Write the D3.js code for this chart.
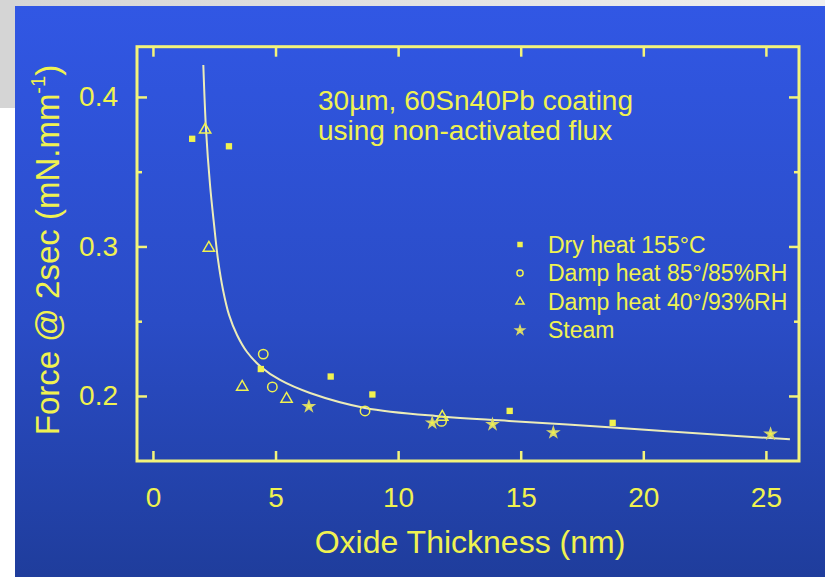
<!DOCTYPE html>
<html><head><meta charset="utf-8">
<script src="https://cdnjs.cloudflare.com/ajax/libs/d3/7.8.5/d3.min.js"></script>
<style>html,body{margin:0;padding:0;background:#fff;}svg{display:block;font-family:"Liberation Sans",Arial,sans-serif;}</style>
</head><body>
<script>
// ---- data ----
const dryHeat   = [[1.6,0.372],[3.1,0.367],[4.4,0.218],[7.25,0.213],[8.95,0.201],[14.55,0.190],[18.75,0.182]];
const damp8585  = [[4.5,0.228],[4.87,0.206],[8.65,0.190],[11.77,0.183]];
const damp4093  = [[2.13,0.378],[2.28,0.299],[3.64,0.206],[5.45,0.198],[11.8,0.186]];
const steam     = [[6.36,0.193],[11.39,0.182],[13.85,0.181],[16.33,0.1755],[25.19,0.1746]];
const fitCurve  = [[2.055,0.4214],[2.166,0.3779],[2.329,0.3411],[2.494,0.3144],[2.655,0.291],[2.859,0.2709],[3.104,0.2542],[3.43,0.2408],[3.838,0.2294],[4.409,0.2194],[5.184,0.2107],[6.407,0.202],[8.65,0.192],[11.75,0.1863],[14.52,0.1833],[18.76,0.1789],[22.31,0.1749],[25.98,0.171]];
const xTicks = [0,5,10,15,20,25];
const yTicks = [0.2,0.3,0.4];
const yMinorTicks = [0.25,0.35];
const legendLabels = ["Dry heat 155°C","Damp heat 85°/85%RH","Damp heat 40°/93%RH","Steam"];
const noteLines = ["30µm, 60Sn40Pb coating","using non-activated flux"];
const xTitle = "Oxide Thickness (nm)";

const W=825,H=577;
const YEL="#f0f250", FRAME="#f3f37a", CURVE="#ececb8";
const svg=d3.select("body").append("svg").attr("width",W).attr("height",H);
const defs=svg.append("defs");
const g1=defs.append("linearGradient").attr("id","bg").attr("x1",0).attr("y1",0).attr("x2",0).attr("y2",1);
g1.append("stop").attr("offset","0%").attr("stop-color","#3157e4");
g1.append("stop").attr("offset","55%").attr("stop-color","#2a4cc6");
g1.append("stop").attr("offset","100%").attr("stop-color","#1f3d9c");
const g2=defs.append("linearGradient").attr("id","gr").attr("x1",0).attr("y1",0).attr("x2",1).attr("y2",0);
g2.append("stop").attr("offset","0%").attr("stop-color","#d5d5d5");
g2.append("stop").attr("offset","100%").attr("stop-color","#efefef");

svg.append("rect").attr("x",0).attr("y",0).attr("width",W).attr("height",H).attr("fill","#fff");
svg.append("rect").attr("x",0).attr("y",0).attr("width",W).attr("height",6).attr("fill","url(#gr)");
svg.append("rect").attr("x",0).attr("y",0).attr("width",15).attr("height",108).attr("fill","#d5d5d5");
svg.append("rect").attr("x",15).attr("y",6).attr("width",W-15).attr("height",H-6).attr("fill","url(#bg)");

const L=137,R=799,T=46.7,B=461;
const x=d3.scaleLinear().domain([-0.65,26.35]).range([L,R]);
const y=d3.scaleLinear().domain([0.1565,0.4336]).range([B,T]);

function styleAxis(g){g.select(".domain").remove();g.selectAll("line").attr("stroke",FRAME).attr("stroke-width",2.5);g.selectAll("text").attr("fill",YEL).attr("font-size",28).attr("font-family","'Liberation Sans',Arial,sans-serif");}
svg.append("g").attr("transform",`translate(0,${B})`).call(d3.axisBottom(x).tickValues(xTicks).tickSize(-10).tickPadding(26).tickFormat(d3.format("d"))).call(styleAxis);
svg.append("g").attr("transform",`translate(0,${T})`).call(d3.axisTop(x).tickValues(xTicks).tickSize(-10).tickFormat("")).call(styleAxis);
svg.append("g").attr("transform",`translate(${L},0)`).call(d3.axisLeft(y).tickValues(yTicks).tickSize(-10).tickPadding(19).tickFormat(d3.format(".1f"))).call(styleAxis);
svg.append("g").attr("transform",`translate(${L},0)`).call(d3.axisLeft(y).tickValues(yMinorTicks).tickSize(-5).tickFormat("")).call(styleAxis);
svg.append("g").attr("transform",`translate(${R},0)`).call(d3.axisRight(y).tickValues(yTicks).tickSize(-10).tickFormat("")).call(styleAxis);
svg.append("g").attr("transform",`translate(${R},0)`).call(d3.axisRight(y).tickValues(yMinorTicks).tickSize(-5).tickFormat("")).call(styleAxis);

svg.append("rect").attr("x",L).attr("y",T).attr("width",R-L).attr("height",B-T)
  .attr("fill","none").attr("stroke",FRAME).attr("stroke-width",3);

// curve
svg.append("path").datum(fitCurve).attr("fill","none").attr("stroke",CURVE).attr("stroke-width",2)
  .attr("d",d3.line().x(d=>x(d[0])).y(d=>y(d[1])).curve(d3.curveCatmullRom.alpha(0.5)));

// markers
const sq=d3.symbol().type(d3.symbolSquare).size(40);
const ci=d3.symbol().type(d3.symbolCircle).size(70);
const tr=d3.symbol().type(d3.symbolTriangle).size(55);
const st=d3.symbol().type(d3.symbolStar).size(32);
const seriesDefs=[
 {data:dryHeat,sym:sq,fill:YEL,stroke:"none"},
 {data:damp8585,sym:ci,fill:"none",stroke:YEL},
 {data:damp4093,sym:tr,fill:"none",stroke:YEL},
 {data:steam,sym:st,fill:YEL,stroke:"#d6d66a"}
];
seriesDefs.forEach(s=>{
  svg.append("g").selectAll("path").data(s.data).join("path")
   .attr("transform",d=>`translate(${x(d[0])},${y(d[1])})`)
   .attr("d",s.sym()).attr("fill",s.fill).attr("stroke",s.stroke).attr("stroke-width",1.5);
});

// legend
const legSyms=[d3.symbol().type(d3.symbolSquare).size(30),d3.symbol().type(d3.symbolCircle).size(30),d3.symbol().type(d3.symbolTriangle).size(28),d3.symbol().type(d3.symbolStar).size(22)];
legendLabels.forEach((t,i)=>{
  const by=252.5+i*28.6;
  const s=seriesDefs[i];
  svg.append("path").attr("transform",`translate(520,${by-8})`).attr("d",legSyms[i]())
    .attr("fill",s.fill).attr("stroke",s.stroke).attr("stroke-width",1.5);
  svg.append("text").attr("x",548).attr("y",by).attr("fill",YEL).attr("font-size",23).text(t);
});

// note
noteLines.forEach((t,i)=>{
  svg.append("text").attr("x",318).attr("y",110+i*30).attr("fill",YEL).attr("font-size",28).text(t);
});

// axis titles
svg.append("text").attr("x",(L+R)/2+2).attr("y",553).attr("text-anchor","middle").attr("fill",YEL).attr("font-size",32).text(xTitle);
const yt=svg.append("text").attr("transform","translate(59,250) rotate(-90)").attr("text-anchor","middle").attr("fill",YEL).attr("font-size",33);
yt.append("tspan").text("Force @ 2sec (mN.mm");
yt.append("tspan").attr("font-size",20).attr("dy",-14).text("-1");
yt.append("tspan").attr("dy",14).text(")");
</script>
</body></html>
